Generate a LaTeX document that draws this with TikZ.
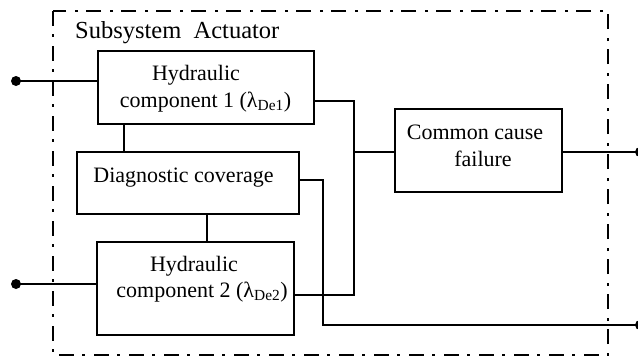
\documentclass[tikz,border=0pt]{standalone}
\usepackage{fontspec}
\setmainfont{Liberation Serif}
\begin{document}
\begin{tikzpicture}[x=1pt,y=-1pt]
\tikzset{
  blk/.style={draw, line width=1.6pt, inner sep=0pt, anchor=north west},
  lbl/.style={anchor=base, inner sep=0pt, font=\fontsize{22}{26}\selectfont},
  ttl/.style={anchor=base west, inner sep=0pt, font=\fontsize{24.5}{28}\selectfont},
  wire/.style={line width=1.6pt},
  frameline/.style={line width=2.8pt, dash pattern=on 15pt off 8pt on 3pt off 9pt},
  term/.style={circle, fill, inner sep=0pt, minimum size=10pt}
}
\useasboundingbox (0,0) rectangle (638,362);

% subsystem boundary
\draw[frameline] (53,11) rectangle (608,355);
\node[ttl] (title) at (75,38) {Subsystem\ \ Actuator};

% blocks
\node[blk, minimum width=216pt, minimum height=73pt] (hc1) at (97,50) {};
\node[blk, minimum width=222pt, minimum height=62pt] (diag) at (76,151) {};
\node[blk, minimum width=197pt, minimum height=93pt] (hc2) at (96,241) {};
\node[blk, minimum width=167pt, minimum height=83pt] (ccf) at (394,108) {};

% block texts
\node[lbl] (hc1a) at (196,80) {Hydraulic};
\node[lbl] (hc1b) at (205.5,107) {component 1 (λ\textsubscript{De1})};
\node[lbl] (diagt) at (183.5,182) {Diagnostic coverage};
\node[lbl] (ccfa) at (475,139) {Common cause};
\node[lbl] (ccfb) at (483,166.5) {failure};
\node[lbl] (hc2a) at (194,271) {Hydraulic};
\node[lbl] (hc2b) at (202,297.5) {component 2 (λ\textsubscript{De2})};

% terminals
\node[term] (in1) at (16,81) {};
\node[term] (in2) at (16,284) {};
\node[term] (out1) at (640,152) {};
\node[term] (out2) at (640,325) {};

% routing points
\coordinate (ja) at (354,101);
\coordinate (jb) at (354,295);
\coordinate (jc) at (354,152);
\coordinate (da) at (323,180);
\coordinate (db) at (323,325);
\coordinate (k1) at (124,0);
\coordinate (k2) at (207,0);

% connections
\draw[wire] (in1.center) -- (in1 -| hc1.west);
\draw[wire] (in2.center) -- (in2 -| hc2.west);
\draw[wire] (ja -| hc1.east) -- (ja) -- (jb) -- (jb -| hc2.east);
\draw[wire] (jc) -- (jc -| ccf.west);
\draw[wire] (jc -| ccf.east) -- (out1.center);
\draw[wire] (da -| diag.east) -- (da) -- (db) -- (out2.center);
\draw[wire] (hc1.south -| k1) -- (diag.north -| k1);
\draw[wire] (diag.south -| k2) -- (hc2.north -| k2);
\end{tikzpicture}
\end{document}
